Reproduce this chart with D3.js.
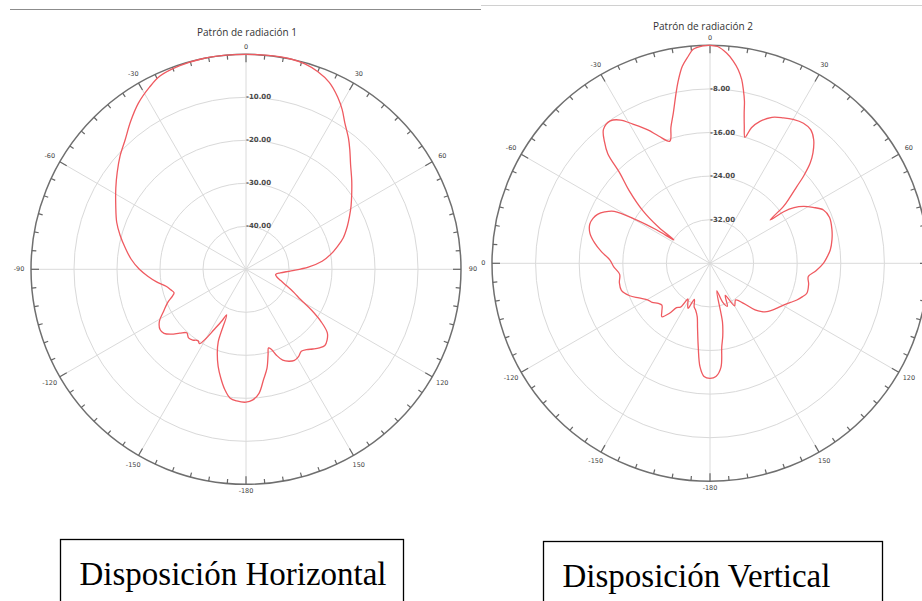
<!DOCTYPE html>
<html>
<head>
<meta charset="utf-8">
<script src="https://cdn.jsdelivr.net/npm/d3@7"></script>
<style>
  html, body { margin: 0; padding: 0; background: #fff; }
  svg { display: block; }
</style>
</head>
<body>
<svg id="chart" width="922" height="601"></svg>
<script>
// Azimuth labels around each polar plot (degrees, 0 at top, clockwise positive)
const angleLabels = [0, 30, 60, 90, 120, 150, -180, -150, -120, -90, -60, -30];

// Radial grid rings (dB) of each plot
const rings1 = [-10, -20, -30, -40];
const rings2 = [-8, -16, -24, -32];

// Pattern 1 (horizontal arrangement): azimuth (deg) and relative gain (dB)
const pattern1Angles = [
  -180, -176, -173, -170, -167, -164, -161, -159, -157, -155, -152, -150, -148, -146,
  -143, -140, -137, -134, -131, -128, -125, -121, -117, -113, -110, -108, -105, -102,
  -98, -94, -90, -85, -80, -75, -70, -64, -58, -53, -48, -43, -38, -33, -28, -24, -18,
  -12, -6, 0, 6, 12, 16, 20, 24, 28, 31, 34, 38, 41, 45, 50, 55, 59, 63, 67, 72, 76,
  80, 84, 88, 92, 96, 100, 104, 108, 112, 116, 119, 122, 125, 128, 131, 134, 137, 140,
  143, 146, 149, 152, 155, 158, 160.5, 162.5, 164, 165.5, 168, 171, 174, 177
];
const pattern1Gain = [
  -19.1, -19.3, -19.8, -21.6, -24.0, -26.5, -29.5, -32.0, -38.5, -36.8, -34.0, -31.5, -29.6, -30.0,
  -29.4, -29.2, -29.8, -28.6, -27.0, -25.8, -25.6, -26.5, -28.5, -30.2, -31.8, -32.4, -31.8, -31.0,
  -29.0, -27.1, -25.2, -23.2, -21.5, -19.7, -18.0, -16.3, -14.3, -12.5, -10.6, -8.8, -6.4, -4.0, -2.1, -0.8, -0.2,
  0, 0, 0, 0, 0, -0.3, -1.1, -2.4, -4.6, -6.6, -8.9, -11.3, -13.2, -15.6, -17.9, -20.0, -21.5, -23.0, -24.4, -26.2, -28.1,
  -30.0, -32.2, -35.5, -39.5, -42.0, -43.0, -42.6, -41.5, -39.8, -37.5, -35.5, -32.0, -28.6, -26.0, -25.0, -24.5, -25.0, -25.8,
  -26.6, -27.0, -26.3, -26.0, -26.4, -27.2, -28.8, -30.5, -31.0, -29.5, -26.5, -24.0, -21.0, -19.6
];

// Pattern 2 (vertical arrangement): azimuth (deg) and relative gain (dB)
const pattern2Angles = [
  -180, -177, -174.5, -172, -169, -166.6, -163, -160, -156.5, -154, -151, -148.3, -146, -143,
  -141, -138, -135, -131, -127.7, -124, -120.7, -116, -112, -107, -102, -97, -92, -88, -84,
  -80, -76, -72, -69, -66.5, -64, -61.5, -59.5, -58, -57, -55, -52, -48, -45, -43, -41,
  -38.5, -35, -32, -29, -25, -22, -18.2, -16, -13.7, -11.5, -10, -8, -6, -4.5, -2,
  0, 2, 4.5, 6.5, 8.3, 9.8, 10.9, 12, 12.8, 14, 15.5, 17, 19.4, 23, 26.8, 30, 33.7, 37,
  40, 43, 45, 47, 48.5, 50.5, 52.3, 54.2, 55, 56.5, 58.7, 61.5, 64.8, 69, 74.7, 79, 83.7,
  87, 90, 94, 97.7, 102, 107.2, 110, 112.9, 116, 119.6, 125, 130.4, 133, 136, 140, 145,
  150, 154.5, 158, 162, 166, 168, 170, 172, 174, 177
];
const pattern2Gain = [
  -18.9, -19.2, -20.9, -24.5, -28.0, -29.9, -31.0, -31.5, -32.8, -30.8, -31.6, -32.3, -30.3, -29.8,
  -28.2, -26.8, -27.5, -28.3, -28.0, -27.2, -26.8, -25.5, -24.1, -23.0, -23.0, -23.3, -22.3, -21.6, -20.0,
  -18.5, -17.3, -16.8, -17.0, -17.5, -18.5, -20.0, -24.3, -28.4, -32.1, -28.5, -24.4, -20.0, -16.6, -12.5, -10.5,
  -8.6, -8.1, -9.0, -10.8, -13.0, -14.8, -16.4, -14.0, -11.6, -8.5, -6.2, -3.5, -1.8, -0.6, -0.1,
  0, -0.2, -1.3, -2.6, -4.1, -5.8, -7.6, -9.6, -11.7, -14.0, -16.0, -14.0, -12.4, -10.9, -10.1, -9.5, -9.1, -9.3,
  -10.4, -12.3, -14.0, -16.5, -18.7, -21.0, -23.0, -26.4, -23.5, -21.5, -19.9, -18.5, -17.0, -16.5, -16.8, -17.2, -17.8,
  -18.5, -19.2, -20.5, -21.8, -21.5, -21.4, -22.0, -22.7, -23.6, -24.5, -25.4, -26.3, -27.0, -28.1, -30.4, -31.8,
  -31.0, -33.5, -31.5, -32.5, -34.8, -29.0, -26.5, -24.5, -20.8, -19.2
];

const svg = d3.select("#chart");
const rad = Math.PI / 180;

// Page rules above each plot
svg.append("line").attr("x1", 10).attr("x2", 481).attr("y1", 9.5).attr("y2", 9.5)
  .attr("stroke", "#8c8c8c").attr("stroke-width", 1);
svg.append("line").attr("x1", 481).attr("x2", 922).attr("y1", 5.5).attr("y2", 5.5)
  .attr("stroke", "#d0d0d0").attr("stroke-width", 1);

const defs = svg.append("defs");
defs.append("clipPath").attr("id", "clipLeft").append("rect")
  .attr("x", 0).attr("y", 0).attr("width", 481).attr("height", 520);
defs.append("clipPath").attr("id", "clipRight").append("rect")
  .attr("x", 481).attr("y", 0).attr("width", 441).attr("height", 520);

function drawPolar(opt) {
  const root = svg.append("g").attr("clip-path", `url(#${opt.clip})`);
  const g = root.append("g").attr("transform", `translate(${opt.cx},${opt.cy})`);
  const r = d3.scaleLinear().domain([opt.minDb, 0]).range([0, opt.R]);
  const R = opt.R;

  // concentric grid rings
  g.selectAll("circle.ring").data(opt.rings).join("circle")
    .attr("class", "ring").attr("r", d => r(d))
    .attr("fill", "none").attr("stroke", "#d9d9d9").attr("stroke-width", 1);

  // spokes every 30 degrees
  g.selectAll("line.spoke").data(d3.range(0, 360, 30)).join("line")
    .attr("class", "spoke")
    .attr("x1", 0).attr("y1", 0)
    .attr("x2", d => R * Math.sin(d * rad)).attr("y2", d => -R * Math.cos(d * rad))
    .attr("stroke", "#dadada").attr("stroke-width", 1);

  // outer frame
  g.append("circle").attr("r", R).attr("fill", "none")
    .attr("stroke", "#6f6f6f").attr("stroke-width", 1.5);

  // tick marks every 5 degrees, longer every 30
  g.selectAll("line.tick").data(d3.range(-180, 180, 5)).join("line")
    .attr("class", "tick")
    .attr("x1", d => R * Math.sin(d * rad))
    .attr("y1", d => -R * Math.cos(d * rad))
    .attr("x2", d => (R - (d % 30 === 0 ? 8 : 4.5)) * Math.sin(d * rad))
    .attr("y2", d => -(R - (d % 30 === 0 ? 8 : 4.5)) * Math.cos(d * rad))
    .attr("stroke", "#666").attr("stroke-width", 1.2);

  // azimuth labels
  g.selectAll("text.ang").data(angleLabels).join("text")
    .attr("class", "ang")
    .attr("x", d => (R + 7 + 5 * Math.sqrt(Math.abs(Math.sin(d * rad)))) * Math.sin(d * rad))
    .attr("y", d => -(R + 7 + 5 * Math.sqrt(Math.abs(Math.sin(d * rad)))) * Math.cos(d * rad))
    .attr("text-anchor", "middle").attr("dominant-baseline", "central")
    .attr("font-family", "DejaVu Sans, sans-serif").attr("font-size", 6.5)
    .attr("fill", "#444")
    .text(d => d);

  // ring value labels along the 0-degree spoke
  g.selectAll("text.ringlab").data(opt.rings).join("text")
    .attr("class", "ringlab")
    .attr("x", 0).attr("y", d => -r(d))
    .attr("dominant-baseline", "central")
    .attr("font-family", "DejaVu Sans, sans-serif").attr("font-size", 7)
    .attr("font-weight", "bold")
    .attr("fill", "#4a4a4a")
    .text(d => d.toFixed(2));

  // radiation pattern
  const pts = opt.angles.map((a, i) => [a * rad, r(Math.max(opt.minDb, opt.gain[i]))]);
  const line = d3.lineRadial().angle(d => d[0]).radius(d => d[1])
    .curve(d3.curveCatmullRomClosed.alpha(0.5));
  g.append("path").attr("d", line(pts))
    .attr("fill", "none").attr("stroke", "#ef5a60").attr("stroke-width", 1.3);

  // title
  root.append("text")
    .attr("x", opt.tx).attr("y", opt.ty)
    .attr("text-anchor", "middle")
    .attr("font-family", "Open Sans, sans-serif").attr("font-size", 10)
    .attr("fill", "#333")
    .text(opt.title);
}

drawPolar({
  clip: "clipLeft", cx: 246, cy: 269.3, R: 215, minDb: -50,
  rings: rings1, angles: pattern1Angles, gain: pattern1Gain,
  title: "Patrón de radiación 1", tx: 247, ty: 36
});
drawPolar({
  clip: "clipRight", cx: 710, cy: 263.3, R: 218, minDb: -40,
  rings: rings2, angles: pattern2Angles, gain: pattern2Gain,
  title: "Patrón de radiación 2", tx: 703, ty: 30
});

// Caption boxes under each plot
const captions = [
  { text: "Disposición Horizontal", x: 60.5, y: 539.5, w: 343 },
  { text: "Disposición Vertical", x: 543.5, y: 541.5, w: 339 }
];
captions.forEach(c => {
  svg.append("rect").attr("x", c.x).attr("y", c.y).attr("width", c.w).attr("height", 100)
    .attr("fill", "none").attr("stroke", "#000").attr("stroke-width", 1.3);
  svg.append("text").attr("x", c.x + 19).attr("y", c.y + 45)
    .attr("font-family", "Liberation Serif, Times New Roman, serif").attr("font-size", 33)
    .attr("fill", "#000")
    .text(c.text);
});
</script>
</body>
</html>
